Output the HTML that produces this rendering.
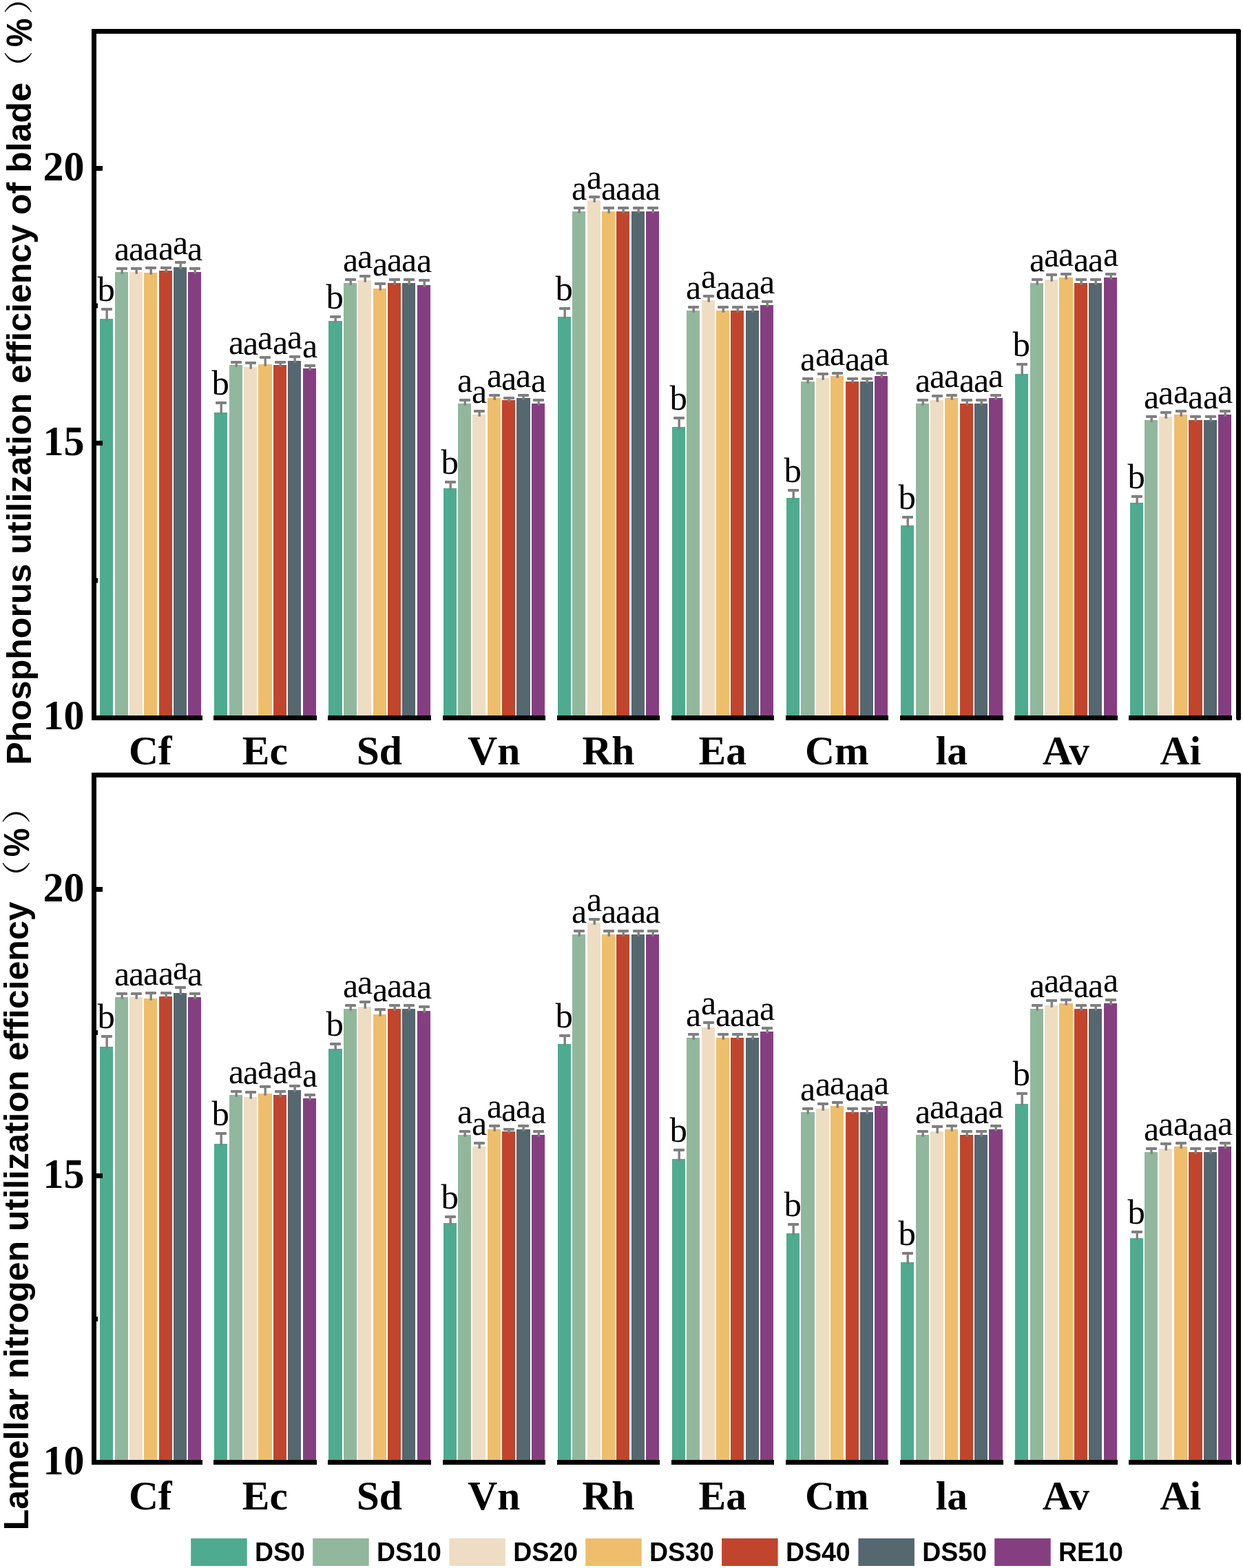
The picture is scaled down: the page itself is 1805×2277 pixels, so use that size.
<!DOCTYPE html>
<html lang="en"><head><meta charset="utf-8"><title>Nutrient utilization efficiency</title>
<style>
html,body{margin:0;padding:0;background:#fff}
body{width:1805px;height:2277px;overflow:hidden}
svg{display:block}
.serif{font-family:"Liberation Serif",serif}
.sans{font-family:"Liberation Sans","Noto Sans CJK SC",sans-serif}
.tick,.xlab{font-weight:bold;fill:#000}
.tick{font-size:60px;text-anchor:end}
.xlab{font-size:59.5px;text-anchor:middle}
.sig{font-size:50px;text-anchor:middle;fill:#000}
.sig .b{font-size:50.8px}
.title{font-size:50.1px;font-weight:bold;fill:#000}
.paren{font-size:42px;font-weight:normal;font-family:"Liberation Sans","Noto Serif CJK SC","Noto Sans CJK SC",sans-serif}
.leg{font-size:37.5px;font-weight:bold;fill:#000}
.ax{fill:#000}
.eb{fill:#808080}
</style></head><body>
<svg width="1805" height="2277" viewBox="0 0 1805 2277" role="img" aria-label="Grouped bar charts of phosphorus and nitrogen utilization efficiency">
<rect width="1805" height="2277" fill="#fff"/>
<g id="panel1">
<g>
<rect x="145" y="463" width="19" height="577" fill="#4EAB90"/>
<rect x="167" y="395" width="19" height="645" fill="#91B79D"/>
<rect x="188" y="395" width="19" height="645" fill="#EEDDC3"/>
<rect x="209" y="396" width="19" height="644" fill="#EEBE6C"/>
<rect x="231" y="393" width="19" height="647" fill="#C1442C"/>
<rect x="252" y="388" width="19" height="652" fill="#55676F"/>
<rect x="273" y="395" width="19" height="645" fill="#853F80"/>
<rect class="eb" x="153.5" y="449" width="3.4" height="16.8"/>
<rect class="eb" x="147" y="447" width="16" height="4" rx="1"/>
<rect class="eb" x="175.5" y="390" width="3.4" height="7.8"/>
<rect class="eb" x="169" y="388" width="16" height="4" rx="1"/>
<rect class="eb" x="196.5" y="390" width="3.4" height="7.8"/>
<rect class="eb" x="190" y="388" width="16" height="4" rx="1"/>
<rect class="eb" x="217.5" y="389" width="3.4" height="9.8"/>
<rect class="eb" x="211" y="387" width="16" height="4" rx="1"/>
<rect class="eb" x="239.5" y="389" width="3.4" height="6.8"/>
<rect class="eb" x="233" y="387" width="16" height="4" rx="1"/>
<rect class="eb" x="260.5" y="381" width="3.4" height="9.8"/>
<rect class="eb" x="254" y="379" width="16" height="4" rx="1"/>
<rect class="eb" x="281.5" y="390" width="3.4" height="7.8"/>
<rect class="eb" x="275" y="388" width="16" height="4" rx="1"/>
</g>
<g>
<rect x="311" y="599" width="19" height="441" fill="#4EAB90"/>
<rect x="333" y="530" width="19" height="510" fill="#91B79D"/>
<rect x="354" y="533" width="19" height="507" fill="#EEDDC3"/>
<rect x="375" y="529" width="20" height="511" fill="#EEBE6C"/>
<rect x="397" y="530" width="19" height="510" fill="#C1442C"/>
<rect x="418" y="524" width="19" height="516" fill="#55676F"/>
<rect x="440" y="535" width="19" height="505" fill="#853F80"/>
<rect class="eb" x="319.5" y="585" width="3.4" height="16.8"/>
<rect class="eb" x="313" y="583" width="16" height="4" rx="1"/>
<rect class="eb" x="341.5" y="526" width="3.4" height="6.8"/>
<rect class="eb" x="335" y="524" width="16" height="4" rx="1"/>
<rect class="eb" x="362.5" y="527" width="3.4" height="8.8"/>
<rect class="eb" x="356" y="525" width="16" height="4" rx="1"/>
<rect class="eb" x="383.5" y="519" width="3.4" height="12.8"/>
<rect class="eb" x="377" y="517" width="16" height="4" rx="1"/>
<rect class="eb" x="405.5" y="526" width="3.4" height="6.8"/>
<rect class="eb" x="399" y="524" width="16" height="4" rx="1"/>
<rect class="eb" x="426.5" y="518" width="3.4" height="8.8"/>
<rect class="eb" x="420" y="516" width="16" height="4" rx="1"/>
<rect class="eb" x="448.5" y="531" width="3.4" height="6.8"/>
<rect class="eb" x="442" y="529" width="16" height="4" rx="1"/>
</g>
<g>
<rect x="477" y="466" width="20" height="574" fill="#4EAB90"/>
<rect x="499" y="411" width="19" height="629" fill="#91B79D"/>
<rect x="520" y="407" width="19" height="633" fill="#EEDDC3"/>
<rect x="542" y="419" width="19" height="621" fill="#EEBE6C"/>
<rect x="563" y="411" width="19" height="629" fill="#C1442C"/>
<rect x="584" y="411" width="19" height="629" fill="#55676F"/>
<rect x="606" y="414" width="19" height="626" fill="#853F80"/>
<rect class="eb" x="485.5" y="460" width="3.4" height="8.8"/>
<rect class="eb" x="479" y="458" width="16" height="4" rx="1"/>
<rect class="eb" x="507.5" y="406" width="3.4" height="7.8"/>
<rect class="eb" x="501" y="404" width="16" height="4" rx="1"/>
<rect class="eb" x="528.5" y="401" width="3.4" height="8.8"/>
<rect class="eb" x="522" y="399" width="16" height="4" rx="1"/>
<rect class="eb" x="550.5" y="412" width="3.4" height="9.8"/>
<rect class="eb" x="544" y="410" width="16" height="4" rx="1"/>
<rect class="eb" x="571.5" y="406" width="3.4" height="7.8"/>
<rect class="eb" x="565" y="404" width="16" height="4" rx="1"/>
<rect class="eb" x="592.5" y="406" width="3.4" height="7.8"/>
<rect class="eb" x="586" y="404" width="16" height="4" rx="1"/>
<rect class="eb" x="614.5" y="407" width="3.4" height="9.8"/>
<rect class="eb" x="608" y="405" width="16" height="4" rx="1"/>
</g>
<g>
<rect x="644" y="709" width="19" height="331" fill="#4EAB90"/>
<rect x="665" y="586" width="19" height="454" fill="#91B79D"/>
<rect x="686" y="602" width="19" height="438" fill="#EEDDC3"/>
<rect x="708" y="578" width="19" height="462" fill="#EEBE6C"/>
<rect x="729" y="581" width="19" height="459" fill="#C1442C"/>
<rect x="750" y="578" width="20" height="462" fill="#55676F"/>
<rect x="772" y="586" width="19" height="454" fill="#853F80"/>
<rect class="eb" x="652.5" y="700" width="3.4" height="11.8"/>
<rect class="eb" x="646" y="698" width="16" height="4" rx="1"/>
<rect class="eb" x="673.5" y="581" width="3.4" height="7.8"/>
<rect class="eb" x="667" y="579" width="16" height="4" rx="1"/>
<rect class="eb" x="694.5" y="597" width="3.4" height="7.8"/>
<rect class="eb" x="688" y="595" width="16" height="4" rx="1"/>
<rect class="eb" x="716.5" y="574" width="3.4" height="6.8"/>
<rect class="eb" x="710" y="572" width="16" height="4" rx="1"/>
<rect class="eb" x="737.5" y="578" width="3.4" height="5.8"/>
<rect class="eb" x="731" y="576" width="16" height="4" rx="1"/>
<rect class="eb" x="758.5" y="574" width="3.4" height="6.8"/>
<rect class="eb" x="752" y="572" width="16" height="4" rx="1"/>
<rect class="eb" x="780.5" y="581" width="3.4" height="7.8"/>
<rect class="eb" x="774" y="579" width="16" height="4" rx="1"/>
</g>
<g>
<rect x="810" y="460" width="19" height="580" fill="#4EAB90"/>
<rect x="831" y="307" width="19" height="733" fill="#91B79D"/>
<rect x="853" y="291" width="19" height="749" fill="#EEDDC3"/>
<rect x="874" y="307" width="19" height="733" fill="#EEBE6C"/>
<rect x="895" y="307" width="19" height="733" fill="#C1442C"/>
<rect x="917" y="307" width="19" height="733" fill="#55676F"/>
<rect x="938" y="307" width="19" height="733" fill="#853F80"/>
<rect class="eb" x="818.5" y="448" width="3.4" height="14.8"/>
<rect class="eb" x="812" y="446" width="16" height="4" rx="1"/>
<rect class="eb" x="839.5" y="302" width="3.4" height="7.8"/>
<rect class="eb" x="833" y="300" width="16" height="4" rx="1"/>
<rect class="eb" x="861.5" y="286" width="3.4" height="7.8"/>
<rect class="eb" x="855" y="284" width="16" height="4" rx="1"/>
<rect class="eb" x="882.5" y="302" width="3.4" height="7.8"/>
<rect class="eb" x="876" y="300" width="16" height="4" rx="1"/>
<rect class="eb" x="903.5" y="302" width="3.4" height="7.8"/>
<rect class="eb" x="897" y="300" width="16" height="4" rx="1"/>
<rect class="eb" x="925.5" y="302" width="3.4" height="7.8"/>
<rect class="eb" x="919" y="300" width="16" height="4" rx="1"/>
<rect class="eb" x="946.5" y="302" width="3.4" height="7.8"/>
<rect class="eb" x="940" y="300" width="16" height="4" rx="1"/>
</g>
<g>
<rect x="976" y="620" width="19" height="420" fill="#4EAB90"/>
<rect x="997" y="451" width="19" height="589" fill="#91B79D"/>
<rect x="1019" y="436" width="19" height="604" fill="#EEDDC3"/>
<rect x="1040" y="451" width="19" height="589" fill="#EEBE6C"/>
<rect x="1061" y="451" width="19" height="589" fill="#C1442C"/>
<rect x="1083" y="451" width="19" height="589" fill="#55676F"/>
<rect x="1104" y="443" width="19" height="597" fill="#853F80"/>
<rect class="eb" x="984.5" y="607" width="3.4" height="15.8"/>
<rect class="eb" x="978" y="605" width="16" height="4" rx="1"/>
<rect class="eb" x="1005.5" y="446" width="3.4" height="7.8"/>
<rect class="eb" x="999" y="444" width="16" height="4" rx="1"/>
<rect class="eb" x="1027.5" y="430" width="3.4" height="8.8"/>
<rect class="eb" x="1021" y="428" width="16" height="4" rx="1"/>
<rect class="eb" x="1048.5" y="446" width="3.4" height="7.8"/>
<rect class="eb" x="1042" y="444" width="16" height="4" rx="1"/>
<rect class="eb" x="1069.5" y="446" width="3.4" height="7.8"/>
<rect class="eb" x="1063" y="444" width="16" height="4" rx="1"/>
<rect class="eb" x="1091.5" y="446" width="3.4" height="7.8"/>
<rect class="eb" x="1085" y="444" width="16" height="4" rx="1"/>
<rect class="eb" x="1112.5" y="438" width="3.4" height="7.8"/>
<rect class="eb" x="1106" y="436" width="16" height="4" rx="1"/>
</g>
<g>
<rect x="1142" y="723" width="19" height="317" fill="#4EAB90"/>
<rect x="1163" y="554" width="20" height="486" fill="#91B79D"/>
<rect x="1185" y="549" width="19" height="491" fill="#EEDDC3"/>
<rect x="1206" y="546" width="19" height="494" fill="#EEBE6C"/>
<rect x="1228" y="554" width="19" height="486" fill="#C1442C"/>
<rect x="1249" y="554" width="19" height="486" fill="#55676F"/>
<rect x="1270" y="546" width="19" height="494" fill="#853F80"/>
<rect class="eb" x="1150.5" y="712" width="3.4" height="13.8"/>
<rect class="eb" x="1144" y="710" width="16" height="4" rx="1"/>
<rect class="eb" x="1171.5" y="550" width="3.4" height="6.8"/>
<rect class="eb" x="1165" y="548" width="16" height="4" rx="1"/>
<rect class="eb" x="1193.5" y="543" width="3.4" height="8.8"/>
<rect class="eb" x="1187" y="541" width="16" height="4" rx="1"/>
<rect class="eb" x="1214.5" y="542" width="3.4" height="6.8"/>
<rect class="eb" x="1208" y="540" width="16" height="4" rx="1"/>
<rect class="eb" x="1236.5" y="550" width="3.4" height="6.8"/>
<rect class="eb" x="1230" y="548" width="16" height="4" rx="1"/>
<rect class="eb" x="1257.5" y="550" width="3.4" height="6.8"/>
<rect class="eb" x="1251" y="548" width="16" height="4" rx="1"/>
<rect class="eb" x="1278.5" y="542" width="3.4" height="6.8"/>
<rect class="eb" x="1272" y="540" width="16" height="4" rx="1"/>
</g>
<g>
<rect x="1308" y="763" width="19" height="277" fill="#4EAB90"/>
<rect x="1330" y="586" width="19" height="454" fill="#91B79D"/>
<rect x="1351" y="581" width="19" height="459" fill="#EEDDC3"/>
<rect x="1372" y="578" width="19" height="462" fill="#EEBE6C"/>
<rect x="1394" y="586" width="19" height="454" fill="#C1442C"/>
<rect x="1415" y="586" width="19" height="454" fill="#55676F"/>
<rect x="1436" y="578" width="20" height="462" fill="#853F80"/>
<rect class="eb" x="1316.5" y="751" width="3.4" height="14.8"/>
<rect class="eb" x="1310" y="749" width="16" height="4" rx="1"/>
<rect class="eb" x="1338.5" y="581" width="3.4" height="7.8"/>
<rect class="eb" x="1332" y="579" width="16" height="4" rx="1"/>
<rect class="eb" x="1359.5" y="575" width="3.4" height="8.8"/>
<rect class="eb" x="1353" y="573" width="16" height="4" rx="1"/>
<rect class="eb" x="1380.5" y="574" width="3.4" height="6.8"/>
<rect class="eb" x="1374" y="572" width="16" height="4" rx="1"/>
<rect class="eb" x="1402.5" y="581" width="3.4" height="7.8"/>
<rect class="eb" x="1396" y="579" width="16" height="4" rx="1"/>
<rect class="eb" x="1423.5" y="581" width="3.4" height="7.8"/>
<rect class="eb" x="1417" y="579" width="16" height="4" rx="1"/>
<rect class="eb" x="1444.5" y="574" width="3.4" height="6.8"/>
<rect class="eb" x="1438" y="572" width="16" height="4" rx="1"/>
</g>
<g>
<rect x="1474" y="543" width="19" height="497" fill="#4EAB90"/>
<rect x="1496" y="411" width="19" height="629" fill="#91B79D"/>
<rect x="1517" y="406" width="19" height="634" fill="#EEDDC3"/>
<rect x="1538" y="403" width="20" height="637" fill="#EEBE6C"/>
<rect x="1560" y="411" width="19" height="629" fill="#C1442C"/>
<rect x="1581" y="411" width="19" height="629" fill="#55676F"/>
<rect x="1603" y="403" width="19" height="637" fill="#853F80"/>
<rect class="eb" x="1482.5" y="529" width="3.4" height="16.8"/>
<rect class="eb" x="1476" y="527" width="16" height="4" rx="1"/>
<rect class="eb" x="1504.5" y="406" width="3.4" height="7.8"/>
<rect class="eb" x="1498" y="404" width="16" height="4" rx="1"/>
<rect class="eb" x="1525.5" y="399" width="3.4" height="9.8"/>
<rect class="eb" x="1519" y="397" width="16" height="4" rx="1"/>
<rect class="eb" x="1546.5" y="398" width="3.4" height="7.8"/>
<rect class="eb" x="1540" y="396" width="16" height="4" rx="1"/>
<rect class="eb" x="1568.5" y="406" width="3.4" height="7.8"/>
<rect class="eb" x="1562" y="404" width="16" height="4" rx="1"/>
<rect class="eb" x="1589.5" y="406" width="3.4" height="7.8"/>
<rect class="eb" x="1583" y="404" width="16" height="4" rx="1"/>
<rect class="eb" x="1611.5" y="398" width="3.4" height="7.8"/>
<rect class="eb" x="1605" y="396" width="16" height="4" rx="1"/>
</g>
<g>
<rect x="1641" y="730" width="19" height="310" fill="#4EAB90"/>
<rect x="1662" y="610" width="19" height="430" fill="#91B79D"/>
<rect x="1683" y="605" width="19" height="435" fill="#EEDDC3"/>
<rect x="1705" y="602" width="19" height="438" fill="#EEBE6C"/>
<rect x="1726" y="610" width="20" height="430" fill="#C1442C"/>
<rect x="1748" y="610" width="19" height="430" fill="#55676F"/>
<rect x="1769" y="602" width="19" height="438" fill="#853F80"/>
<rect class="eb" x="1649.5" y="721" width="3.4" height="11.8"/>
<rect class="eb" x="1643" y="719" width="16" height="4" rx="1"/>
<rect class="eb" x="1670.5" y="605" width="3.4" height="7.8"/>
<rect class="eb" x="1664" y="603" width="16" height="4" rx="1"/>
<rect class="eb" x="1691.5" y="599" width="3.4" height="8.8"/>
<rect class="eb" x="1685" y="597" width="16" height="4" rx="1"/>
<rect class="eb" x="1713.5" y="597" width="3.4" height="7.8"/>
<rect class="eb" x="1707" y="595" width="16" height="4" rx="1"/>
<rect class="eb" x="1734.5" y="605" width="3.4" height="7.8"/>
<rect class="eb" x="1728" y="603" width="16" height="4" rx="1"/>
<rect class="eb" x="1756.5" y="605" width="3.4" height="7.8"/>
<rect class="eb" x="1750" y="603" width="16" height="4" rx="1"/>
<rect class="eb" x="1777.5" y="597" width="3.4" height="7.8"/>
<rect class="eb" x="1771" y="595" width="16" height="4" rx="1"/>
</g>
<g class="serif sig">
<text class="b" x="154.3" y="437.1">b</text>
<text x="177.2" y="378.4">a</text>
<text x="198.2" y="378.4">a</text>
<text x="219.2" y="377.4">a</text>
<text x="241.2" y="377.4">a</text>
<text x="262.2" y="369.4">a</text>
<text x="283.2" y="378.4">a</text>
<text class="b" x="320.3" y="573.1">b</text>
<text x="343.2" y="514.4">a</text>
<text x="364.2" y="515.4">a</text>
<text x="385.2" y="507.4">a</text>
<text x="407.2" y="514.4">a</text>
<text x="428.2" y="506.4">a</text>
<text x="450.2" y="519.4">a</text>
<text class="b" x="486.3" y="448.1">b</text>
<text x="509.2" y="394.4">a</text>
<text x="530.2" y="389.4">a</text>
<text x="552.2" y="400.4">a</text>
<text x="573.2" y="394.4">a</text>
<text x="594.2" y="394.4">a</text>
<text x="616.2" y="395.4">a</text>
<text class="b" x="653.3" y="688.1">b</text>
<text x="675.2" y="569.4">a</text>
<text x="696.2" y="585.4">a</text>
<text x="718.2" y="562.4">a</text>
<text x="739.2" y="566.4">a</text>
<text x="760.2" y="562.4">a</text>
<text x="782.2" y="569.4">a</text>
<text class="b" x="819.3" y="436.1">b</text>
<text x="841.2" y="290.4">a</text>
<text x="863.2" y="274.4">a</text>
<text x="884.2" y="290.4">a</text>
<text x="905.2" y="290.4">a</text>
<text x="927.2" y="290.4">a</text>
<text x="948.2" y="290.4">a</text>
<text class="b" x="985.3" y="595.1">b</text>
<text x="1007.2" y="434.4">a</text>
<text x="1029.2" y="418.4">a</text>
<text x="1050.2" y="434.4">a</text>
<text x="1071.2" y="434.4">a</text>
<text x="1093.2" y="434.4">a</text>
<text x="1114.2" y="426.4">a</text>
<text class="b" x="1151.3" y="700.1">b</text>
<text x="1173.2" y="538.4">a</text>
<text x="1195.2" y="531.4">a</text>
<text x="1216.2" y="530.4">a</text>
<text x="1238.2" y="538.4">a</text>
<text x="1259.2" y="538.4">a</text>
<text x="1280.2" y="530.4">a</text>
<text class="b" x="1317.3" y="739.1">b</text>
<text x="1340.2" y="569.4">a</text>
<text x="1361.2" y="563.4">a</text>
<text x="1382.2" y="562.4">a</text>
<text x="1404.2" y="569.4">a</text>
<text x="1425.2" y="569.4">a</text>
<text x="1446.2" y="562.4">a</text>
<text class="b" x="1483.3" y="517.1">b</text>
<text x="1506.2" y="394.4">a</text>
<text x="1527.2" y="387.4">a</text>
<text x="1548.2" y="386.4">a</text>
<text x="1570.2" y="394.4">a</text>
<text x="1591.2" y="394.4">a</text>
<text x="1613.2" y="386.4">a</text>
<text class="b" x="1650.3" y="709.1">b</text>
<text x="1672.2" y="593.4">a</text>
<text x="1693.2" y="587.4">a</text>
<text x="1715.2" y="585.4">a</text>
<text x="1736.2" y="593.4">a</text>
<text x="1758.2" y="593.4">a</text>
<text x="1779.2" y="585.4">a</text>
</g>
<g class="ax">
<rect x="133" y="42" width="7" height="1004"/>
<rect x="133" y="42" width="1666" height="7"/>
<rect x="1795" y="42" width="7" height="1004" rx="2.5"/>
<rect x="133" y="1039" width="161" height="7"/>
<rect x="310" y="1039" width="150" height="7"/>
<rect x="476" y="1039" width="150" height="7"/>
<rect x="643" y="1039" width="149" height="7"/>
<rect x="809" y="1039" width="149" height="7"/>
<rect x="975" y="1039" width="149" height="7"/>
<rect x="1141" y="1039" width="149" height="7"/>
<rect x="1307" y="1039" width="150" height="7"/>
<rect x="1473" y="1039" width="150" height="7"/>
<rect x="1639" y="1039" width="150" height="7"/>
<rect x="140" y="241" width="9" height="7"/>
<rect x="140" y="440.5" width="2" height="7"/>
<rect x="140" y="640" width="9" height="7"/>
<rect x="140" y="839.5" width="2" height="7"/>
</g>
<g class="serif tick">
<text transform="translate(122.5 262.1) scale(1 1.026)">20</text>
<text transform="translate(122.5 661.1) scale(1 1.026)">15</text>
<text transform="translate(122.5 1058.9) scale(1 1.026)">10</text>
</g>
<g class="serif xlab">
<text x="218.3" y="1110">Cf</text>
<text x="384.8" y="1110">Ec</text>
<text x="550.8" y="1110">Sd</text>
<text x="717.3" y="1110">Vn</text>
<text x="883.3" y="1110">Rh</text>
<text x="1049.3" y="1110">Ea</text>
<text x="1215.3" y="1110">Cm</text>
<text x="1381.8" y="1110">la</text>
<text x="1547.8" y="1110">Av</text>
<text x="1714.3" y="1110">Ai</text>
</g>
<g class="sans title">
<text transform="translate(45 1110.8) rotate(-90)">Phosphorus utilization efficiency of blade</text>
<text class="paren" transform="translate(42.4 123.5) rotate(-90) scale(1.19 1)">（</text>
<text text-anchor="middle" transform="translate(45.8 47.35) rotate(-90) scale(0.935 1.04)">%</text>
<text class="paren" transform="translate(42.4 20.95) rotate(-90) scale(1.19 1)">）</text>
</g>
</g>
<g id="panel2">
<g>
<rect x="145" y="1520" width="19" height="601" fill="#4EAB90"/>
<rect x="167" y="1448" width="19" height="673" fill="#91B79D"/>
<rect x="188" y="1448" width="19" height="673" fill="#EEDDC3"/>
<rect x="209" y="1450" width="19" height="671" fill="#EEBE6C"/>
<rect x="231" y="1447" width="19" height="674" fill="#C1442C"/>
<rect x="252" y="1442" width="19" height="679" fill="#55676F"/>
<rect x="273" y="1448" width="19" height="673" fill="#853F80"/>
<rect class="eb" x="153.5" y="1505" width="3.4" height="17.8"/>
<rect class="eb" x="147" y="1503" width="16" height="4" rx="1"/>
<rect class="eb" x="175.5" y="1443" width="3.4" height="7.8"/>
<rect class="eb" x="169" y="1441" width="16" height="4" rx="1"/>
<rect class="eb" x="196.5" y="1443" width="3.4" height="7.8"/>
<rect class="eb" x="190" y="1441" width="16" height="4" rx="1"/>
<rect class="eb" x="217.5" y="1442" width="3.4" height="10.8"/>
<rect class="eb" x="211" y="1440" width="16" height="4" rx="1"/>
<rect class="eb" x="239.5" y="1442" width="3.4" height="7.8"/>
<rect class="eb" x="233" y="1440" width="16" height="4" rx="1"/>
<rect class="eb" x="260.5" y="1434" width="3.4" height="10.8"/>
<rect class="eb" x="254" y="1432" width="16" height="4" rx="1"/>
<rect class="eb" x="281.5" y="1443" width="3.4" height="7.8"/>
<rect class="eb" x="275" y="1441" width="16" height="4" rx="1"/>
</g>
<g>
<rect x="311" y="1661" width="19" height="460" fill="#4EAB90"/>
<rect x="333" y="1590" width="19" height="531" fill="#91B79D"/>
<rect x="354" y="1593" width="19" height="528" fill="#EEDDC3"/>
<rect x="375" y="1588" width="20" height="533" fill="#EEBE6C"/>
<rect x="397" y="1590" width="19" height="531" fill="#C1442C"/>
<rect x="418" y="1583" width="19" height="538" fill="#55676F"/>
<rect x="440" y="1595" width="19" height="526" fill="#853F80"/>
<rect class="eb" x="319.5" y="1646" width="3.4" height="17.8"/>
<rect class="eb" x="313" y="1644" width="16" height="4" rx="1"/>
<rect class="eb" x="341.5" y="1585" width="3.4" height="7.8"/>
<rect class="eb" x="335" y="1583" width="16" height="4" rx="1"/>
<rect class="eb" x="362.5" y="1586" width="3.4" height="9.8"/>
<rect class="eb" x="356" y="1584" width="16" height="4" rx="1"/>
<rect class="eb" x="383.5" y="1578" width="3.4" height="12.8"/>
<rect class="eb" x="377" y="1576" width="16" height="4" rx="1"/>
<rect class="eb" x="405.5" y="1585" width="3.4" height="7.8"/>
<rect class="eb" x="399" y="1583" width="16" height="4" rx="1"/>
<rect class="eb" x="426.5" y="1577" width="3.4" height="8.8"/>
<rect class="eb" x="420" y="1575" width="16" height="4" rx="1"/>
<rect class="eb" x="448.5" y="1590" width="3.4" height="7.8"/>
<rect class="eb" x="442" y="1588" width="16" height="4" rx="1"/>
</g>
<g>
<rect x="477" y="1523" width="20" height="598" fill="#4EAB90"/>
<rect x="499" y="1465" width="19" height="656" fill="#91B79D"/>
<rect x="520" y="1462" width="19" height="659" fill="#EEDDC3"/>
<rect x="542" y="1473" width="19" height="648" fill="#EEBE6C"/>
<rect x="563" y="1465" width="19" height="656" fill="#C1442C"/>
<rect x="584" y="1465" width="19" height="656" fill="#55676F"/>
<rect x="606" y="1468" width="19" height="653" fill="#853F80"/>
<rect class="eb" x="485.5" y="1516" width="3.4" height="9.8"/>
<rect class="eb" x="479" y="1514" width="16" height="4" rx="1"/>
<rect class="eb" x="507.5" y="1460" width="3.4" height="7.8"/>
<rect class="eb" x="501" y="1458" width="16" height="4" rx="1"/>
<rect class="eb" x="528.5" y="1455" width="3.4" height="9.8"/>
<rect class="eb" x="522" y="1453" width="16" height="4" rx="1"/>
<rect class="eb" x="550.5" y="1466" width="3.4" height="9.8"/>
<rect class="eb" x="544" y="1464" width="16" height="4" rx="1"/>
<rect class="eb" x="571.5" y="1460" width="3.4" height="7.8"/>
<rect class="eb" x="565" y="1458" width="16" height="4" rx="1"/>
<rect class="eb" x="592.5" y="1460" width="3.4" height="7.8"/>
<rect class="eb" x="586" y="1458" width="16" height="4" rx="1"/>
<rect class="eb" x="614.5" y="1462" width="3.4" height="8.8"/>
<rect class="eb" x="608" y="1460" width="16" height="4" rx="1"/>
</g>
<g>
<rect x="644" y="1776" width="19" height="345" fill="#4EAB90"/>
<rect x="665" y="1648" width="19" height="473" fill="#91B79D"/>
<rect x="686" y="1665" width="19" height="456" fill="#EEDDC3"/>
<rect x="708" y="1640" width="19" height="481" fill="#EEBE6C"/>
<rect x="729" y="1643" width="19" height="478" fill="#C1442C"/>
<rect x="750" y="1640" width="20" height="481" fill="#55676F"/>
<rect x="772" y="1648" width="19" height="473" fill="#853F80"/>
<rect class="eb" x="652.5" y="1767" width="3.4" height="11.8"/>
<rect class="eb" x="646" y="1765" width="16" height="4" rx="1"/>
<rect class="eb" x="673.5" y="1643" width="3.4" height="7.8"/>
<rect class="eb" x="667" y="1641" width="16" height="4" rx="1"/>
<rect class="eb" x="694.5" y="1660" width="3.4" height="7.8"/>
<rect class="eb" x="688" y="1658" width="16" height="4" rx="1"/>
<rect class="eb" x="716.5" y="1635" width="3.4" height="7.8"/>
<rect class="eb" x="710" y="1633" width="16" height="4" rx="1"/>
<rect class="eb" x="737.5" y="1640" width="3.4" height="5.8"/>
<rect class="eb" x="731" y="1638" width="16" height="4" rx="1"/>
<rect class="eb" x="758.5" y="1635" width="3.4" height="7.8"/>
<rect class="eb" x="752" y="1633" width="16" height="4" rx="1"/>
<rect class="eb" x="780.5" y="1643" width="3.4" height="7.8"/>
<rect class="eb" x="774" y="1641" width="16" height="4" rx="1"/>
</g>
<g>
<rect x="810" y="1516" width="19" height="605" fill="#4EAB90"/>
<rect x="831" y="1357" width="19" height="764" fill="#91B79D"/>
<rect x="853" y="1340" width="19" height="781" fill="#EEDDC3"/>
<rect x="874" y="1357" width="19" height="764" fill="#EEBE6C"/>
<rect x="895" y="1357" width="19" height="764" fill="#C1442C"/>
<rect x="917" y="1357" width="19" height="764" fill="#55676F"/>
<rect x="938" y="1357" width="19" height="764" fill="#853F80"/>
<rect class="eb" x="818.5" y="1504" width="3.4" height="14.8"/>
<rect class="eb" x="812" y="1502" width="16" height="4" rx="1"/>
<rect class="eb" x="839.5" y="1352" width="3.4" height="7.8"/>
<rect class="eb" x="833" y="1350" width="16" height="4" rx="1"/>
<rect class="eb" x="861.5" y="1335" width="3.4" height="7.8"/>
<rect class="eb" x="855" y="1333" width="16" height="4" rx="1"/>
<rect class="eb" x="882.5" y="1352" width="3.4" height="7.8"/>
<rect class="eb" x="876" y="1350" width="16" height="4" rx="1"/>
<rect class="eb" x="903.5" y="1352" width="3.4" height="7.8"/>
<rect class="eb" x="897" y="1350" width="16" height="4" rx="1"/>
<rect class="eb" x="925.5" y="1352" width="3.4" height="7.8"/>
<rect class="eb" x="919" y="1350" width="16" height="4" rx="1"/>
<rect class="eb" x="946.5" y="1352" width="3.4" height="7.8"/>
<rect class="eb" x="940" y="1350" width="16" height="4" rx="1"/>
</g>
<g>
<rect x="976" y="1683" width="19" height="438" fill="#4EAB90"/>
<rect x="997" y="1507" width="19" height="614" fill="#91B79D"/>
<rect x="1019" y="1492" width="19" height="629" fill="#EEDDC3"/>
<rect x="1040" y="1507" width="19" height="614" fill="#EEBE6C"/>
<rect x="1061" y="1507" width="19" height="614" fill="#C1442C"/>
<rect x="1083" y="1507" width="19" height="614" fill="#55676F"/>
<rect x="1104" y="1498" width="19" height="623" fill="#853F80"/>
<rect class="eb" x="984.5" y="1670" width="3.4" height="15.8"/>
<rect class="eb" x="978" y="1668" width="16" height="4" rx="1"/>
<rect class="eb" x="1005.5" y="1502" width="3.4" height="7.8"/>
<rect class="eb" x="999" y="1500" width="16" height="4" rx="1"/>
<rect class="eb" x="1027.5" y="1485" width="3.4" height="9.8"/>
<rect class="eb" x="1021" y="1483" width="16" height="4" rx="1"/>
<rect class="eb" x="1048.5" y="1502" width="3.4" height="7.8"/>
<rect class="eb" x="1042" y="1500" width="16" height="4" rx="1"/>
<rect class="eb" x="1069.5" y="1502" width="3.4" height="7.8"/>
<rect class="eb" x="1063" y="1500" width="16" height="4" rx="1"/>
<rect class="eb" x="1091.5" y="1502" width="3.4" height="7.8"/>
<rect class="eb" x="1085" y="1500" width="16" height="4" rx="1"/>
<rect class="eb" x="1112.5" y="1493" width="3.4" height="7.8"/>
<rect class="eb" x="1106" y="1491" width="16" height="4" rx="1"/>
</g>
<g>
<rect x="1142" y="1791" width="19" height="330" fill="#4EAB90"/>
<rect x="1163" y="1615" width="20" height="506" fill="#91B79D"/>
<rect x="1185" y="1610" width="19" height="511" fill="#EEDDC3"/>
<rect x="1206" y="1606" width="19" height="515" fill="#EEBE6C"/>
<rect x="1228" y="1615" width="19" height="506" fill="#C1442C"/>
<rect x="1249" y="1615" width="19" height="506" fill="#55676F"/>
<rect x="1270" y="1606" width="19" height="515" fill="#853F80"/>
<rect class="eb" x="1150.5" y="1778" width="3.4" height="15.8"/>
<rect class="eb" x="1144" y="1776" width="16" height="4" rx="1"/>
<rect class="eb" x="1171.5" y="1610" width="3.4" height="7.8"/>
<rect class="eb" x="1165" y="1608" width="16" height="4" rx="1"/>
<rect class="eb" x="1193.5" y="1603" width="3.4" height="9.8"/>
<rect class="eb" x="1187" y="1601" width="16" height="4" rx="1"/>
<rect class="eb" x="1214.5" y="1601" width="3.4" height="7.8"/>
<rect class="eb" x="1208" y="1599" width="16" height="4" rx="1"/>
<rect class="eb" x="1236.5" y="1610" width="3.4" height="7.8"/>
<rect class="eb" x="1230" y="1608" width="16" height="4" rx="1"/>
<rect class="eb" x="1257.5" y="1610" width="3.4" height="7.8"/>
<rect class="eb" x="1251" y="1608" width="16" height="4" rx="1"/>
<rect class="eb" x="1278.5" y="1601" width="3.4" height="7.8"/>
<rect class="eb" x="1272" y="1599" width="16" height="4" rx="1"/>
</g>
<g>
<rect x="1308" y="1833" width="19" height="288" fill="#4EAB90"/>
<rect x="1330" y="1648" width="19" height="473" fill="#91B79D"/>
<rect x="1351" y="1643" width="19" height="478" fill="#EEDDC3"/>
<rect x="1372" y="1640" width="19" height="481" fill="#EEBE6C"/>
<rect x="1394" y="1648" width="19" height="473" fill="#C1442C"/>
<rect x="1415" y="1648" width="19" height="473" fill="#55676F"/>
<rect x="1436" y="1640" width="20" height="481" fill="#853F80"/>
<rect class="eb" x="1316.5" y="1820" width="3.4" height="15.8"/>
<rect class="eb" x="1310" y="1818" width="16" height="4" rx="1"/>
<rect class="eb" x="1338.5" y="1643" width="3.4" height="7.8"/>
<rect class="eb" x="1332" y="1641" width="16" height="4" rx="1"/>
<rect class="eb" x="1359.5" y="1636" width="3.4" height="9.8"/>
<rect class="eb" x="1353" y="1634" width="16" height="4" rx="1"/>
<rect class="eb" x="1380.5" y="1635" width="3.4" height="7.8"/>
<rect class="eb" x="1374" y="1633" width="16" height="4" rx="1"/>
<rect class="eb" x="1402.5" y="1643" width="3.4" height="7.8"/>
<rect class="eb" x="1396" y="1641" width="16" height="4" rx="1"/>
<rect class="eb" x="1423.5" y="1643" width="3.4" height="7.8"/>
<rect class="eb" x="1417" y="1641" width="16" height="4" rx="1"/>
<rect class="eb" x="1444.5" y="1635" width="3.4" height="7.8"/>
<rect class="eb" x="1438" y="1633" width="16" height="4" rx="1"/>
</g>
<g>
<rect x="1474" y="1603" width="19" height="518" fill="#4EAB90"/>
<rect x="1496" y="1465" width="19" height="656" fill="#91B79D"/>
<rect x="1517" y="1460" width="19" height="661" fill="#EEDDC3"/>
<rect x="1538" y="1457" width="20" height="664" fill="#EEBE6C"/>
<rect x="1560" y="1465" width="19" height="656" fill="#C1442C"/>
<rect x="1581" y="1465" width="19" height="656" fill="#55676F"/>
<rect x="1603" y="1457" width="19" height="664" fill="#853F80"/>
<rect class="eb" x="1482.5" y="1588" width="3.4" height="17.8"/>
<rect class="eb" x="1476" y="1586" width="16" height="4" rx="1"/>
<rect class="eb" x="1504.5" y="1460" width="3.4" height="7.8"/>
<rect class="eb" x="1498" y="1458" width="16" height="4" rx="1"/>
<rect class="eb" x="1525.5" y="1453" width="3.4" height="9.8"/>
<rect class="eb" x="1519" y="1451" width="16" height="4" rx="1"/>
<rect class="eb" x="1546.5" y="1452" width="3.4" height="7.8"/>
<rect class="eb" x="1540" y="1450" width="16" height="4" rx="1"/>
<rect class="eb" x="1568.5" y="1460" width="3.4" height="7.8"/>
<rect class="eb" x="1562" y="1458" width="16" height="4" rx="1"/>
<rect class="eb" x="1589.5" y="1460" width="3.4" height="7.8"/>
<rect class="eb" x="1583" y="1458" width="16" height="4" rx="1"/>
<rect class="eb" x="1611.5" y="1452" width="3.4" height="7.8"/>
<rect class="eb" x="1605" y="1450" width="16" height="4" rx="1"/>
</g>
<g>
<rect x="1641" y="1798" width="19" height="323" fill="#4EAB90"/>
<rect x="1662" y="1673" width="19" height="448" fill="#91B79D"/>
<rect x="1683" y="1668" width="19" height="453" fill="#EEDDC3"/>
<rect x="1705" y="1665" width="19" height="456" fill="#EEBE6C"/>
<rect x="1726" y="1673" width="20" height="448" fill="#C1442C"/>
<rect x="1748" y="1673" width="19" height="448" fill="#55676F"/>
<rect x="1769" y="1665" width="19" height="456" fill="#853F80"/>
<rect class="eb" x="1649.5" y="1789" width="3.4" height="11.8"/>
<rect class="eb" x="1643" y="1787" width="16" height="4" rx="1"/>
<rect class="eb" x="1670.5" y="1668" width="3.4" height="7.8"/>
<rect class="eb" x="1664" y="1666" width="16" height="4" rx="1"/>
<rect class="eb" x="1691.5" y="1661" width="3.4" height="9.8"/>
<rect class="eb" x="1685" y="1659" width="16" height="4" rx="1"/>
<rect class="eb" x="1713.5" y="1660" width="3.4" height="7.8"/>
<rect class="eb" x="1707" y="1658" width="16" height="4" rx="1"/>
<rect class="eb" x="1734.5" y="1668" width="3.4" height="7.8"/>
<rect class="eb" x="1728" y="1666" width="16" height="4" rx="1"/>
<rect class="eb" x="1756.5" y="1668" width="3.4" height="7.8"/>
<rect class="eb" x="1750" y="1666" width="16" height="4" rx="1"/>
<rect class="eb" x="1777.5" y="1660" width="3.4" height="7.8"/>
<rect class="eb" x="1771" y="1658" width="16" height="4" rx="1"/>
</g>
<g class="serif sig">
<text class="b" x="154.3" y="1493.1">b</text>
<text x="177.2" y="1431.4">a</text>
<text x="198.2" y="1431.4">a</text>
<text x="219.2" y="1430.4">a</text>
<text x="241.2" y="1430.4">a</text>
<text x="262.2" y="1422.4">a</text>
<text x="283.2" y="1431.4">a</text>
<text class="b" x="320.3" y="1634.1">b</text>
<text x="343.2" y="1573.4">a</text>
<text x="364.2" y="1574.4">a</text>
<text x="385.2" y="1566.4">a</text>
<text x="407.2" y="1573.4">a</text>
<text x="428.2" y="1565.4">a</text>
<text x="450.2" y="1578.4">a</text>
<text class="b" x="486.3" y="1504.1">b</text>
<text x="509.2" y="1448.4">a</text>
<text x="530.2" y="1443.4">a</text>
<text x="552.2" y="1454.4">a</text>
<text x="573.2" y="1448.4">a</text>
<text x="594.2" y="1448.4">a</text>
<text x="616.2" y="1450.4">a</text>
<text class="b" x="653.3" y="1755.1">b</text>
<text x="675.2" y="1631.4">a</text>
<text x="696.2" y="1648.4">a</text>
<text x="718.2" y="1623.4">a</text>
<text x="739.2" y="1628.4">a</text>
<text x="760.2" y="1623.4">a</text>
<text x="782.2" y="1631.4">a</text>
<text class="b" x="819.3" y="1492.1">b</text>
<text x="841.2" y="1340.4">a</text>
<text x="863.2" y="1323.4">a</text>
<text x="884.2" y="1340.4">a</text>
<text x="905.2" y="1340.4">a</text>
<text x="927.2" y="1340.4">a</text>
<text x="948.2" y="1340.4">a</text>
<text class="b" x="985.3" y="1658.1">b</text>
<text x="1007.2" y="1490.4">a</text>
<text x="1029.2" y="1473.4">a</text>
<text x="1050.2" y="1490.4">a</text>
<text x="1071.2" y="1490.4">a</text>
<text x="1093.2" y="1490.4">a</text>
<text x="1114.2" y="1481.4">a</text>
<text class="b" x="1151.3" y="1766.1">b</text>
<text x="1173.2" y="1598.4">a</text>
<text x="1195.2" y="1591.4">a</text>
<text x="1216.2" y="1589.4">a</text>
<text x="1238.2" y="1598.4">a</text>
<text x="1259.2" y="1598.4">a</text>
<text x="1280.2" y="1589.4">a</text>
<text class="b" x="1317.3" y="1808.1">b</text>
<text x="1340.2" y="1631.4">a</text>
<text x="1361.2" y="1624.4">a</text>
<text x="1382.2" y="1623.4">a</text>
<text x="1404.2" y="1631.4">a</text>
<text x="1425.2" y="1631.4">a</text>
<text x="1446.2" y="1623.4">a</text>
<text class="b" x="1483.3" y="1576.1">b</text>
<text x="1506.2" y="1448.4">a</text>
<text x="1527.2" y="1441.4">a</text>
<text x="1548.2" y="1440.4">a</text>
<text x="1570.2" y="1448.4">a</text>
<text x="1591.2" y="1448.4">a</text>
<text x="1613.2" y="1440.4">a</text>
<text class="b" x="1650.3" y="1777.1">b</text>
<text x="1672.2" y="1656.4">a</text>
<text x="1693.2" y="1649.4">a</text>
<text x="1715.2" y="1648.4">a</text>
<text x="1736.2" y="1656.4">a</text>
<text x="1758.2" y="1656.4">a</text>
<text x="1779.2" y="1648.4">a</text>
</g>
<g class="ax">
<rect x="133" y="1122" width="7" height="1005"/>
<rect x="133" y="1122" width="1666" height="7"/>
<rect x="1795" y="1122" width="7" height="1005" rx="2.5"/>
<rect x="133" y="2120" width="161" height="7"/>
<rect x="310" y="2120" width="150" height="7"/>
<rect x="476" y="2120" width="150" height="7"/>
<rect x="643" y="2120" width="149" height="7"/>
<rect x="809" y="2120" width="149" height="7"/>
<rect x="975" y="2120" width="149" height="7"/>
<rect x="1141" y="2120" width="149" height="7"/>
<rect x="1307" y="2120" width="150" height="7"/>
<rect x="1473" y="2120" width="150" height="7"/>
<rect x="1639" y="2120" width="150" height="7"/>
<rect x="140" y="1288" width="9" height="7"/>
<rect x="140" y="1496" width="2" height="7"/>
<rect x="140" y="1704" width="9" height="7"/>
<rect x="140" y="1912" width="2" height="7"/>
</g>
<g class="serif tick">
<text transform="translate(122.5 1309.1) scale(1 1.026)">20</text>
<text transform="translate(122.5 1725.1) scale(1 1.026)">15</text>
<text transform="translate(122.5 2141.1) scale(1 1.026)">10</text>
</g>
<g class="serif xlab">
<text x="218.3" y="2191.5">Cf</text>
<text x="384.8" y="2191.5">Ec</text>
<text x="550.8" y="2191.5">Sd</text>
<text x="717.3" y="2191.5">Vn</text>
<text x="883.3" y="2191.5">Rh</text>
<text x="1049.3" y="2191.5">Ea</text>
<text x="1215.3" y="2191.5">Cm</text>
<text x="1381.8" y="2191.5">la</text>
<text x="1547.8" y="2191.5">Av</text>
<text x="1714.3" y="2191.5">Ai</text>
</g>
<g class="sans title">
<text transform="translate(41.1 2222.3) rotate(-90)">Lamellar nitrogen utilization efficiency </text>
<text class="paren" transform="translate(38.5 1299.6) rotate(-90) scale(1.19 1)">（</text>
<text text-anchor="middle" transform="translate(41.9 1223.4) rotate(-90) scale(0.935 1.04)">%</text>
<text class="paren" transform="translate(38.5 1196.75) rotate(-90) scale(1.19 1)">）</text>
</g>
</g>
<g id="legend">
<rect x="277.2" y="2234" width="81.5" height="40" fill="#4EAB90"/>
<text class="sans leg" transform="translate(370 2267) scale(1 1.035)">DS0</text>
<rect x="454.2" y="2234" width="81.5" height="40" fill="#91B79D"/>
<text class="sans leg" transform="translate(547 2267) scale(1 1.035)">DS10</text>
<rect x="652.4" y="2234" width="81.5" height="40" fill="#EEDDC3"/>
<text class="sans leg" transform="translate(745.2 2267) scale(1 1.035)">DS20</text>
<rect x="850.2" y="2234" width="81.5" height="40" fill="#EEBE6C"/>
<text class="sans leg" transform="translate(943 2267) scale(1 1.035)">DS30</text>
<rect x="1048.1" y="2234" width="81.5" height="40" fill="#C1442C"/>
<text class="sans leg" transform="translate(1140.9 2267) scale(1 1.035)">DS40</text>
<rect x="1246.4" y="2234" width="81.5" height="40" fill="#55676F"/>
<text class="sans leg" transform="translate(1339.2 2267) scale(1 1.035)">DS50</text>
<rect x="1444.2" y="2234" width="81.5" height="40" fill="#853F80"/>
<text class="sans leg" transform="translate(1537 2267) scale(1 1.035)">RE10</text>
</g>
</svg>
</body></html>
